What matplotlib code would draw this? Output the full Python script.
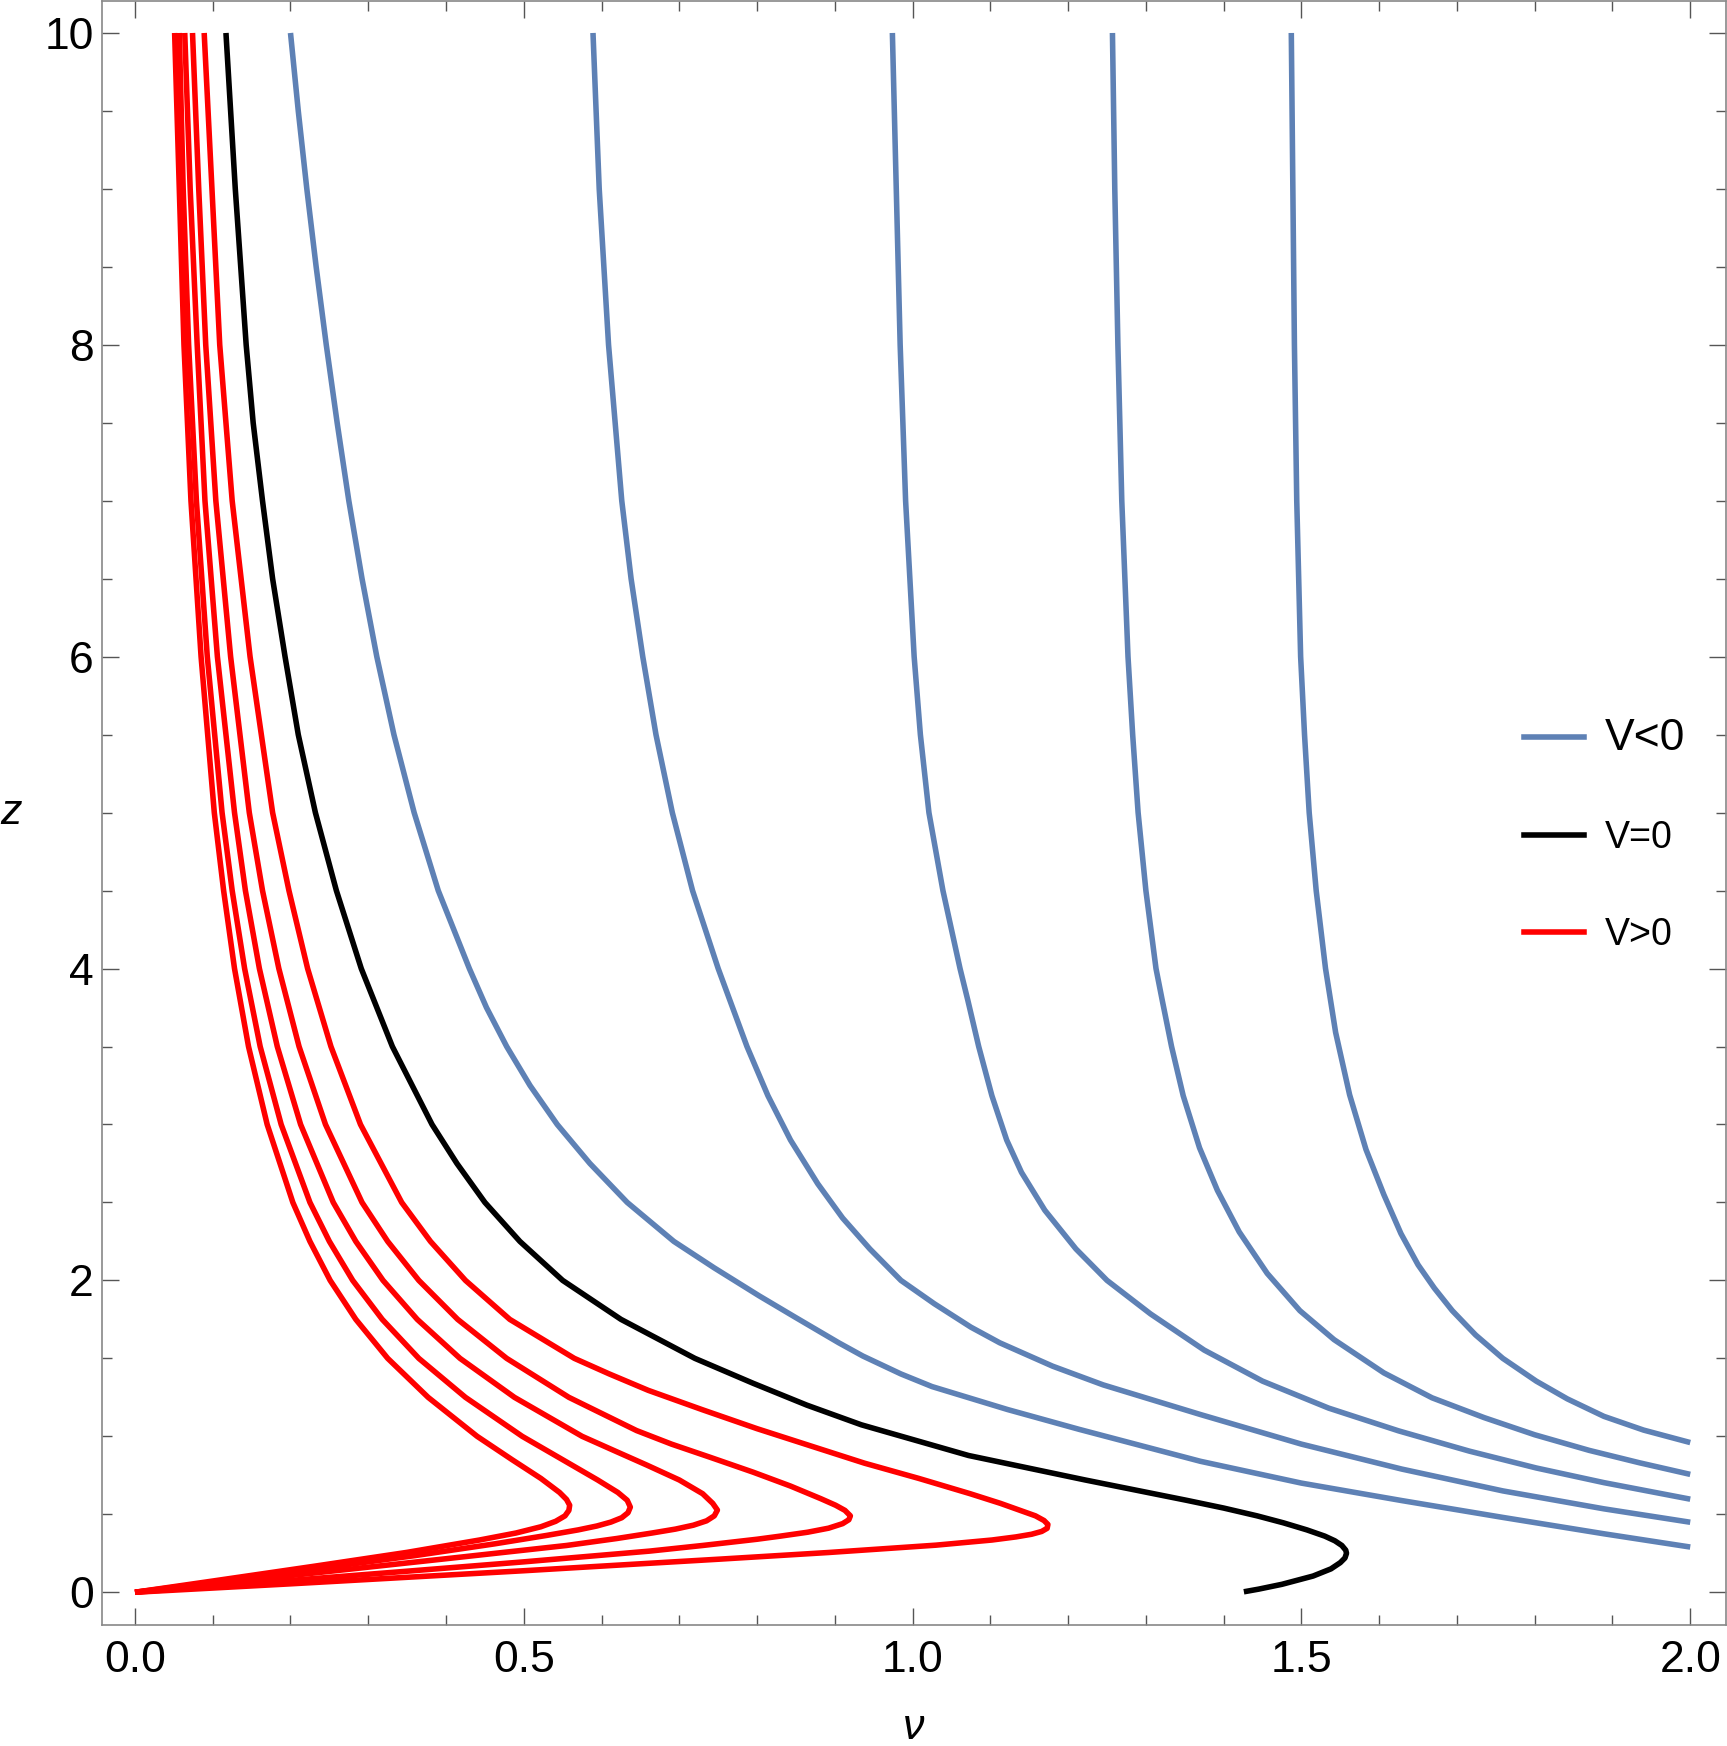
import matplotlib
matplotlib.use("Agg")
import matplotlib.pyplot as plt
from matplotlib.lines import Line2D
from matplotlib.ticker import MultipleLocator

# ---------------- data ----------------
# V>0 family (red): each curve runs from the top, turns at its tip, and ends at the origin
red1_nu = [0.051, 0.057, 0.063, 0.072, 0.085, 0.102, 0.114, 0.128, 0.146, 0.170, 0.203, 0.225, 0.251, 0.284, 0.325, 0.377, 0.440, 0.485, 0.522, 0.546, 0.555, 0.559,
           0.558, 0.553, 0.541, 0.522, 0.490, 0.443, 0.350, 0.232, 0.100, 0.0]
red1_z  = [10.0, 9.0, 8.0, 7.0, 6.0, 5.0, 4.5, 4.0, 3.5, 3.0, 2.5, 2.25, 2.0, 1.75, 1.5, 1.25, 1.0, 0.85, 0.73, 0.64, 0.595, 0.558,
           0.525, 0.49, 0.455, 0.42, 0.38, 0.335, 0.256, 0.168, 0.072, 0.0]

red2_nu = [0.057, 0.062, 0.069, 0.079, 0.093, 0.112, 0.125, 0.141, 0.161, 0.188, 0.225, 0.250, 0.280, 0.318, 0.365, 0.425, 0.498, 0.550, 0.595, 0.621, 0.633, 0.637,
           0.634, 0.626, 0.612, 0.594, 0.570, 0.530, 0.462, 0.360, 0.240, 0.120, 0.0]
red2_z  = [10.0, 9.0, 8.0, 7.0, 6.0, 5.0, 4.5, 4.0, 3.5, 3.0, 2.5, 2.25, 2.0, 1.75, 1.5, 1.25, 1.0, 0.85, 0.72, 0.64, 0.59, 0.546,
           0.51, 0.478, 0.45, 0.425, 0.40, 0.365, 0.31, 0.235, 0.155, 0.077, 0.0]

red3_nu = [0.064, 0.071, 0.080, 0.090, 0.106, 0.128, 0.142, 0.160, 0.183, 0.213, 0.255, 0.284, 0.319, 0.363, 0.418, 0.488, 0.575, 0.620, 0.658, 0.700, 0.730, 0.743, 0.749,
           0.745, 0.735, 0.718, 0.695, 0.665, 0.620, 0.555, 0.400, 0.252, 0.122, 0.0]
red3_z  = [10.0, 9.0, 8.0, 7.0, 6.0, 5.0, 4.5, 4.0, 3.5, 3.0, 2.5, 2.25, 2.0, 1.75, 1.5, 1.25, 1.0, 0.9, 0.816, 0.72, 0.632, 0.57, 0.527,
           0.49, 0.458, 0.43, 0.405, 0.38, 0.345, 0.30, 0.215, 0.135, 0.065, 0.0]

red4_nu = [0.074, 0.082, 0.091, 0.104, 0.123, 0.147, 0.164, 0.185, 0.211, 0.245, 0.292, 0.325, 0.365, 0.415, 0.478, 0.558, 0.645, 0.690, 0.740, 0.795, 0.843, 0.882, 0.901, 0.913, 0.920,
           0.918, 0.910, 0.892, 0.865, 0.830, 0.800, 0.730, 0.662, 0.500, 0.350, 0.200, 0.0]
red4_z  = [10.0, 9.0, 8.0, 7.0, 6.0, 5.0, 4.5, 4.0, 3.5, 3.0, 2.5, 2.25, 2.0, 1.75, 1.5, 1.25, 1.037, 0.95, 0.865, 0.77, 0.681, 0.60, 0.558, 0.525, 0.49,
           0.465, 0.44, 0.411, 0.385, 0.36, 0.34, 0.30, 0.264, 0.195, 0.135, 0.076, 0.0]

red5_nu = [0.089, 0.099, 0.109, 0.125, 0.148, 0.177, 0.198, 0.222, 0.252, 0.290, 0.343, 0.380, 0.425, 0.482, 0.565, 0.610, 0.660, 0.730, 0.800, 0.868, 0.938, 1.008, 1.074, 1.113, 1.140, 1.158, 1.169, 1.174,
           1.173, 1.166, 1.153, 1.133, 1.102, 1.030, 0.892, 0.754, 0.662, 0.500, 0.350, 0.200, 0.0]
red5_z  = [10.0, 9.0, 8.0, 7.0, 6.0, 5.0, 4.5, 4.0, 3.5, 3.0, 2.5, 2.25, 2.0, 1.75, 1.5, 1.4, 1.295, 1.17, 1.049, 0.94, 0.828, 0.73, 0.632, 0.57, 0.522, 0.49, 0.46, 0.435,
           0.41, 0.39, 0.372, 0.355, 0.335, 0.302, 0.255, 0.213, 0.186, 0.138, 0.096, 0.054, 0.0]

# V=0 (black)
black_nu = [0.117, 0.129, 0.143, 0.152, 0.164, 0.177, 0.193, 0.210, 0.232, 0.259, 0.291, 0.331, 0.382, 0.414, 0.450, 0.495, 0.550, 0.625, 0.720, 0.795, 0.864, 0.934, 1.072, 1.222, 1.352,
            1.400, 1.443, 1.477, 1.507, 1.530, 1.543, 1.552, 1.557, 1.558, 1.556, 1.550, 1.538, 1.515, 1.475, 1.445, 1.426]
black_z  = [10.0, 9.0, 8.0, 7.5, 7.0, 6.5, 6.0, 5.5, 5.0, 4.5, 4.0, 3.5, 3.0, 2.75, 2.5, 2.25, 2.0, 1.75, 1.5, 1.34, 1.2, 1.074, 0.877, 0.72, 0.59,
            0.54, 0.49, 0.445, 0.40, 0.36, 0.33, 0.30, 0.27, 0.25, 0.22, 0.19, 0.15, 0.104, 0.051, 0.02, 0.003]

# V<0 family (blue)
blue1_nu = [0.200, 0.210, 0.221, 0.233, 0.246, 0.260, 0.275, 0.292, 0.311, 0.333, 0.359, 0.390, 0.430, 0.452, 0.478, 0.508, 0.543, 0.585, 0.633, 0.693, 0.745, 0.803, 0.850, 0.905, 0.936, 0.985, 1.025, 1.122, 1.214, 1.370, 1.500, 1.629, 1.759, 1.889, 2.0]
blue1_z  = [10.0, 9.5, 9.0, 8.5, 8.0, 7.5, 7.0, 6.5, 6.0, 5.5, 5.0, 4.5, 4.0, 3.75, 3.5, 3.25, 3.0, 2.75, 2.5, 2.25, 2.08, 1.9, 1.761, 1.6, 1.515, 1.4, 1.319, 1.172, 1.045, 0.84, 0.70, 0.588, 0.48, 0.375, 0.29]

blue2_nu = [0.589, 0.597, 0.609, 0.626, 0.638, 0.653, 0.670, 0.691, 0.717, 0.750, 0.765, 0.787, 0.814, 0.843, 0.878, 0.910, 0.945, 0.985, 1.028, 1.075, 1.112, 1.180, 1.245, 1.370, 1.500, 1.629, 1.759, 1.889, 2.0]
blue2_z  = [10.0, 9.0, 8.0, 7.0, 6.5, 6.0, 5.5, 5.0, 4.5, 4.0, 3.797, 3.5, 3.184, 2.9, 2.62, 2.4, 2.202, 2.0, 1.85, 1.7, 1.6, 1.45, 1.33, 1.14, 0.95, 0.79, 0.65, 0.535, 0.449]

blue3_nu = [0.974, 0.979, 0.984, 0.991, 1.002, 1.010, 1.021, 1.039, 1.061, 1.071, 1.085, 1.102, 1.121, 1.140, 1.170, 1.210, 1.250, 1.306, 1.375, 1.450, 1.535, 1.625, 1.716, 1.802, 1.889, 2.0]
blue3_z  = [10.0, 9.0, 8.0, 7.0, 6.0, 5.5, 5.0, 4.5, 4.0, 3.797, 3.5, 3.184, 2.9, 2.693, 2.45, 2.202, 2.0, 1.785, 1.553, 1.354, 1.181, 1.035, 0.905, 0.797, 0.703, 0.597]

blue4_nu = [1.257, 1.260, 1.264, 1.269, 1.277, 1.283, 1.290, 1.300, 1.313, 1.321, 1.333, 1.348, 1.369, 1.392, 1.420, 1.456, 1.498, 1.542, 1.606, 1.668, 1.735, 1.800, 1.870, 1.935, 2.0]
blue4_z  = [10.0, 9.0, 8.0, 7.0, 6.0, 5.5, 5.0, 4.5, 4.0, 3.797, 3.5, 3.184, 2.85, 2.577, 2.311, 2.045, 1.806, 1.62, 1.407, 1.247, 1.12, 1.01, 0.91, 0.83, 0.756]

blue5_nu = [1.487, 1.489, 1.491, 1.494, 1.499, 1.504, 1.510, 1.519, 1.531, 1.544, 1.562, 1.583, 1.606, 1.628, 1.650, 1.671, 1.694, 1.724, 1.759, 1.802, 1.842, 1.889, 1.940, 2.0]
blue5_z  = [10.0, 9.0, 8.0, 7.0, 6.0, 5.5, 5.0, 4.5, 4.0, 3.59, 3.19, 2.84, 2.55, 2.30, 2.10, 1.95, 1.806, 1.65, 1.50, 1.354, 1.24, 1.128, 1.04, 0.96]

x_ticks = [0.0, 0.5, 1.0, 1.5, 2.0]
x_ticklabels = ["0.0", "0.5", "1.0", "1.5", "2.0"]
y_ticks = [0, 2, 4, 6, 8, 10]
y_ticklabels = ["0", "2", "4", "6", "8", "10"]
legend_labels = ["V<0", "V=0", "V>0"]

# ---------------- style ----------------
BLUE = "#5E81B5"
RED = "#FF0000"
BLACK = "#000000"
LW = 4.0
FRAME = "#888888"
TICKC = "#555555"

plt.rcParams["font.family"] = ["Liberation Sans", "DejaVu Sans"]

fig = plt.figure(figsize=(17.27, 17.46), dpi=100)
ax = fig.add_axes([102 / 1727, 1 - 1625 / 1746, 1624 / 1727, 1624 / 1746])

kw = dict(lw=LW, solid_joinstyle="round", solid_capstyle="butt")
for nu, z in [(red1_nu, red1_z), (red2_nu, red2_z), (red3_nu, red3_z), (red4_nu, red4_z), (red5_nu, red5_z)]:
    ax.plot(nu, z, color=RED, **kw)
ax.plot(black_nu, black_z, color=BLACK, **kw)
for nu, z in [(blue1_nu, blue1_z), (blue2_nu, blue2_z), (blue3_nu, blue3_z), (blue4_nu, blue4_z), (blue5_nu, blue5_z)]:
    ax.plot(nu, z, color=BLUE, **kw)

ax.set_xlim(-0.0424, 2.046)
ax.set_ylim(-0.21, 10.205)

ax.set_xticks(x_ticks)
ax.set_xticklabels(x_ticklabels)
ax.set_yticks(y_ticks)
ax.set_yticklabels(y_ticklabels)
ax.xaxis.set_minor_locator(MultipleLocator(0.1))
ax.yaxis.set_minor_locator(MultipleLocator(0.5))
ax.tick_params(which="both", direction="in", top=True, right=True, color=TICKC, width=1.0)
ax.tick_params(which="major", length=12.5, labelsize=32)
ax.tick_params(axis="x", which="major", pad=11)
ax.tick_params(axis="y", which="major", pad=6)
ax.tick_params(which="minor", length=7)
for s in ax.spines.values():
    s.set_color(FRAME)
    s.set_linewidth(1.2)

ax.set_xlabel("ν", fontsize=31, fontstyle="italic", labelpad=19)
ax.set_ylabel("z", fontsize=31, fontstyle="italic", rotation=0, labelpad=24, va="center")

handles = [Line2D([], [], color=BLUE, lw=LW), Line2D([], [], color=BLACK, lw=LW), Line2D([], [], color=RED, lw=LW)]
leg = ax.legend(handles, legend_labels, loc="center left", bbox_to_anchor=(0.855, 0.486),
                frameon=False, fontsize=27, handlelength=1.6, handletextpad=0.55, labelspacing=1.62)
leg.get_texts()[0].set_fontsize(32)

fig.savefig("out.png", dpi=100)
